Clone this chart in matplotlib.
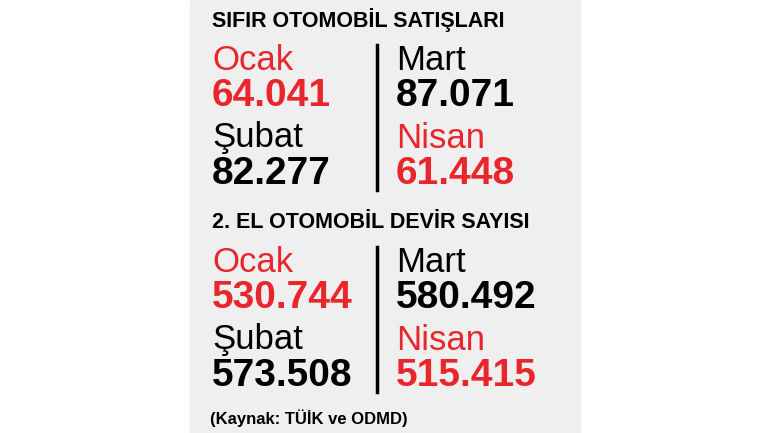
import matplotlib
matplotlib.use("Agg")
import matplotlib.pyplot as plt
from matplotlib.patches import Rectangle

titles = ["SIFIR OTOMOBİL SATIŞLARI", "2. EL OTOMOBİL DEVİR SAYISI"]
months = ["Ocak", "Şubat", "Mart", "Nisan"]
sifir = ["64.041", "82.277", "87.071", "61.448"]
ikinci = ["530.744", "573.508", "580.492", "515.415"]
source = "(Kaynak: TÜİK ve ODMD)"
RED = "#e8262b"
month_colors = [RED, "black", "black", RED]

plt.rcParams['font.family'] = ['Liberation Sans Narrow', 'Liberation Sans', 'DejaVu Sans']
fig = plt.figure(figsize=(7.7, 4.33), dpi=100)
ax = fig.add_axes([0, 0, 1, 1])
ax.set_xlim(0, 770); ax.set_ylim(433, 0); ax.axis("off")
ax.add_patch(Rectangle((190, 0), 390, 433, color="#efefef", zorder=0))

def block(y0, title, vals):
    ax.text(212, y0, title, fontsize=15.5, fontweight="bold", va="center", ha="left")
    for i, (m, v) in enumerate(zip(months, vals)):
        col = 0 if i < 2 else 1
        row = i % 2
        x = 212 if col == 0 else 396
        y = y0 + 40 + row * 78
        ax.text(x, y, m, fontsize=25, color=month_colors[i], va="center", ha="left")
        ax.text(x, y + 36, v, fontsize=28, fontweight="bold", color=month_colors[i], va="center", ha="left")
    ax.plot([377, 377], [y0 + 25, y0 + 170], color="black", lw=2.5)

block(20, titles[0], sifir)
block(222, titles[1], ikinci)
ax.text(210, 418, source, fontsize=12, fontweight="bold", va="center", ha="left")
fig.savefig("out.png", dpi=100)
